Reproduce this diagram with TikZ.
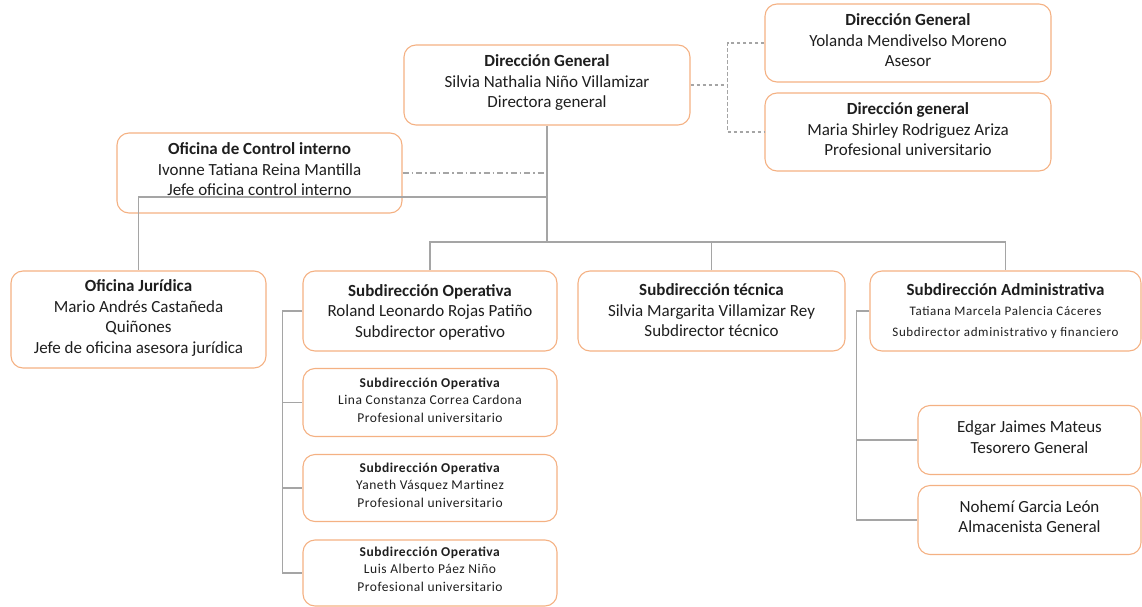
\documentclass[tikz,border=0pt]{standalone}
\usepackage{fontspec}
\setmainfont{Carlito}
\newfontfamily\spacedfont[LetterSpace=4]{Carlito}
\newfontfamily\widefont[LetterSpace=5]{Carlito}
\definecolor{boxor}{HTML}{F4B183}
\definecolor{lngray}{HTML}{A5A5A5}
\definecolor{txt}{HTML}{1E1E1E}
\tikzset{
  orgbox/.style={draw=boxor, line width=1.1pt, rounded corners=12pt, inner sep=0pt},
  bigtext/.style={inner sep=0pt, align=center, text=txt, font=\fontsize{17}{20.5}\selectfont},
  smalltext/.style={inner sep=0pt, align=center, text=txt, font=\spacedfont\fontsize{13.5}{17.7}\selectfont},
  conn/.style={draw=lngray, line width=1.7pt},
  dashconn/.style={draw=lngray, line width=1.3pt, dash pattern=on 3.5pt off 2.5pt},
  dotconn/.style={draw=lngray, line width=1.1pt, dash pattern=on 6pt off 3pt on 1.5pt off 3pt},
}
\begin{document}
\begin{tikzpicture}[x=1pt,y=-1pt]
\useasboundingbox (0,0) rectangle (1142,607);
\coordinate (bus) at (547,242);
\coordinate (jj) at (547,197);
% boxes
\node[orgbox, minimum width=286pt, minimum height=80pt] (dg) at (547,85) {};
\node[orgbox, minimum width=286pt, minimum height=78pt] (ase) at (908,43) {};
\node[orgbox, minimum width=286pt, minimum height=78pt] (mar) at (908,132) {};
\node[orgbox, minimum width=285pt, minimum height=80pt] (ctl) at (259.5,173) {};
\node[orgbox, minimum width=255pt, minimum height=97pt] (jur) at (138.5,319.5) {};
\node[orgbox, minimum width=254pt, minimum height=80pt] (op) at (430,311) {};
\node[orgbox, minimum width=267pt, minimum height=80pt] (tec) at (711.5,311) {};
\node[orgbox, minimum width=271pt, minimum height=80pt] (adm) at (1005.5,311) {};
\node[orgbox, minimum width=254pt, minimum height=68pt] (op1) at (430,402.5) {};
\node[orgbox, minimum width=254pt, minimum height=67pt] (op2) at (430,488) {};
\node[orgbox, minimum width=254pt, minimum height=66pt] (op3) at (430,573) {};
\node[orgbox, minimum width=223pt, minimum height=69pt] (tes) at (1029.5,440) {};
\node[orgbox, minimum width=223pt, minimum height=69pt] (noh) at (1029.5,520) {};
% texts
\node[bigtext, yshift=2.5pt] (dgt) at (dg.center)
  {\textbf{Dirección General}\\Silvia Nathalia Niño Villamizar\\Directora general};
\node[bigtext, yshift=2.5pt] (aset) at (ase.center)
  {\textbf{Dirección General}\\Yolanda Mendivelso Moreno\\Asesor};
\node[bigtext, yshift=2.5pt] (mart) at (mar.center)
  {\textbf{Dirección general}\\Maria Shirley Rodriguez Ariza\\Profesional universitario};
\node[bigtext, yshift=3.5pt] (ctlt) at (ctl.center)
  {\textbf{Oficina de Control interno}\\Ivonne Tatiana Reina Mantilla\\Jefe oficina control interno};
\node[bigtext, yshift=1.5pt] (jurt) at (jur.center)
  {\textbf{Oficina Jurídica}\\Mario Andrés Castañeda\\Quiñones\\Jefe de oficina asesora jurídica};
\node[bigtext, yshift=-1pt] (opt) at (op.center)
  {\textbf{Subdirección Operativa}\\Roland Leonardo Rojas Patiño\\Subdirector operativo};
\node[bigtext, yshift=0.5pt] (tect) at (tec.center)
  {\textbf{Subdirección técnica}\\Silvia Margarita Villamizar Rey\\Subdirector técnico};
\node[bigtext] (admt) at (adm.center)
  {\textbf{Subdirección Administrativa}\\{\widefont\fontsize{13}{18}\selectfont Tatiana Marcela Palencia Cáceres}\\{\widefont\fontsize{13}{18}\selectfont Subdirector administrativo y financiero}};
\node[smalltext, yshift=2.5pt] (op1t) at (op1.center)
  {\textbf{Subdirección Operativa}\\Lina Constanza Correa Cardona\\Profesional universitario};
\node[smalltext, yshift=3pt] (op2t) at (op2.center)
  {\textbf{Subdirección Operativa}\\Yaneth Vásquez Martinez\\Profesional universitario};
\node[smalltext, yshift=4pt] (op3t) at (op3.center)
  {\textbf{Subdirección Operativa}\\Luis Alberto Páez Niño\\Profesional universitario};
\node[bigtext, yshift=3pt] (test) at (tes.center)
  {Edgar Jaimes Mateus\\Tesorero General};
\node[bigtext, yshift=3.5pt] (noht) at (noh.center)
  {Nohemí Garcia León\\Almacenista General};
% connectors
\draw[conn] (dg.south) -- (bus);
\draw[conn] (op.north) |- (bus) -| (adm.north);
\draw[conn] (tec.north) -- (tec.north |- bus);
\draw[conn] (jj) -| (jur.north);
\draw[dotconn] (ctl.east) -- (ctl.east -| dg.south);
\draw[dashconn] (dg.east) -- ++(37,0) coordinate (dd);
\draw[dashconn] (ase.west) -| (dd) |- (mar.west);
\draw[conn] (op.west) -- ++(-20,0) coordinate (ol) |- (op3.west);
\draw[conn] (ol |- op1.west) -- (op1.west);
\draw[conn] (ol |- op2.west) -- (op2.west);
\draw[conn] (adm.west) -- ++(-13,0) coordinate (al) |- (noh.west);
\draw[conn] (al |- tes.west) -- (tes.west);
\end{tikzpicture}
\end{document}
